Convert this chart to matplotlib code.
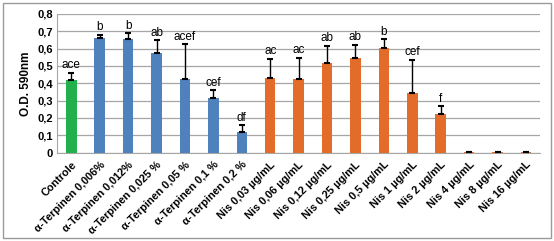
import numpy as np
import matplotlib
matplotlib.use("Agg")
import matplotlib.pyplot as plt
from matplotlib.patches import Rectangle

plt.rcParams['font.family'] = ['Liberation Sans', 'DejaVu Sans']

categorias = ["Controle", "α-Terpinen 0,006%", "α-Terpinen 0,012%", "α-Terpinen 0,025 %",
              "α-Terpinen 0,05 %", "α-Terpinen 0,1 %", "α-Terpinen 0,2 %",
              "Nis 0,03 µg/mL", "Nis 0,06 µg/mL", "Nis 0,12 µg/mL", "Nis 0,25 µg/mL",
              "Nis 0,5 µg/mL", "Nis 1 µg/mL", "Nis 2 µg/mL", "Nis 4 µg/mL",
              "Nis 8 µg/mL", "Nis 16 µg/mL"]
valores = [0.419, 0.660, 0.655, 0.575, 0.425, 0.315, 0.118,
           0.430, 0.422, 0.516, 0.545, 0.606, 0.342, 0.221, 0.002, 0.002, 0.002]
erros = [0.042, 0.020, 0.035, 0.075, 0.200, 0.045, 0.041,
         0.111, 0.125, 0.102, 0.077, 0.050, 0.194, 0.048, 0.0, 0.0, 0.0]
letras = ["ace", "b", "b", "ab", "acef", "cef", "df",
          "ac", "ac", "ab", "ab", "b", "cef", "f", "", "", ""]
grupos = ["controle"] + ["terp"] * 6 + ["nis"] * 10

cores = {"controle": "#21B04B", "terp": "#4F81BD", "nis": "#E46C2A"}

fig = plt.figure(figsize=(5.54, 2.41), dpi=100)
# moldura cinza em volta do grafico
fig.patches.append(Rectangle((0.006, 0.012), 0.988, 0.976, transform=fig.transFigure,
                             fill=False, edgecolor="#9a9a9a", linewidth=1.0))
ax = fig.add_axes([0.103, 0.367, 0.872, 0.575])

x = np.arange(len(categorias))
ax.bar(x, valores, width=0.37, color=[cores[g] for g in grupos], zorder=3)
ax.errorbar(x, valores, yerr=[np.zeros(len(erros)), erros], fmt="none",
            ecolor="black", elinewidth=1.0, capsize=2.5, capthick=1.5, zorder=4)

for xi, v, e, l in zip(x, valores, erros, letras):
    if l:
        ax.text(xi, v + e + 0.008, l, ha="center", va="bottom", fontsize=8.5, zorder=5)

ax.set_xlim(-0.5, len(categorias) - 0.5)
ax.set_ylim(0, 0.8)
yticks = np.arange(0, 0.81, 0.1)
ax.set_yticks(yticks)
ax.set_yticklabels(["0"] + [f"{t:.1f}".replace(".", ",") for t in yticks[1:]],
                   fontsize=8, fontweight="bold")
ax.set_xticks(x)
ax.set_xticklabels(categorias, rotation=45, ha="right", rotation_mode="anchor",
                   fontsize=7.8, fontweight="bold")
ax.tick_params(axis="x", length=0, pad=5)
ax.tick_params(axis="y", length=0, pad=3)
ax.set_ylabel("O.D. 590nm", fontsize=8.5, fontweight="bold", labelpad=4)

ax.yaxis.grid(True, color="#a6a6a6", linewidth=0.9, zorder=0)
for s in ["top", "right"]:
    ax.spines[s].set_visible(False)
ax.spines["left"].set_color("#a6a6a6")
ax.spines["bottom"].set_color("#a6a6a6")

fig.savefig("out.png", dpi=100)
